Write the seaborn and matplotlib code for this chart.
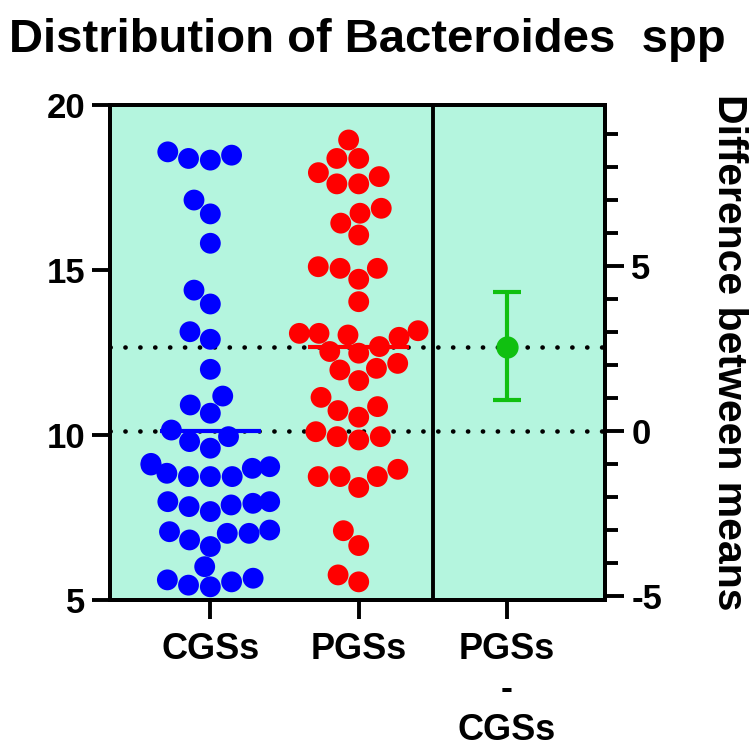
import numpy as np
import pandas as pd
import seaborn as sns
import matplotlib
matplotlib.use("Agg")
import matplotlib.pyplot as plt
from matplotlib.ticker import MultipleLocator

# values
cgs = [18.58, 18.33, 18.38, 18.48, 17.12, 16.70, 15.81, 14.39, 13.97, 13.13, 12.90,
       11.99, 11.18, 10.91, 10.66, 10.15, 9.95, 9.80, 9.60, 9.09, 9.04, 9.14,
       8.84, 8.74, 8.74, 8.99, 8.74, 7.93, 7.98, 7.83, 7.98, 7.88, 7.68,
       7.02, 6.82, 6.62, 7.07, 7.12, 7.02, 6.01, 5.45, 5.55, 5.66, 5.40, 5.61]
pgs = [18.94, 18.38, 18.38, 17.95, 17.61, 17.83, 17.61, 16.87, 16.72, 16.42, 16.06,
       15.05, 15.10, 15.05, 14.72, 14.04, 13.08, 13.08, 13.03, 13.16, 12.96,
       12.68, 12.48, 12.53, 12.17, 11.97, 12.02, 11.65, 10.86, 11.14, 10.74, 10.54,
       9.95, 9.95, 10.10, 9.85, 8.74, 8.74, 8.41, 8.96, 8.74, 7.10, 6.65, 5.76, 5.55]
groups = ["CGSs", "PGSs"]
diff_label = "PGSs\n-\nCGSs"
ci_low, ci_high = 0.92, 4.19

left_ticks = [5, 10, 15, 20]
right_ticks = [-5, 0, 5]

colors = {"CGSs": "#0000FF", "PGSs": "#FF0000"}
green = "#10C010"
mint = "#B4F5DE"

df = pd.DataFrame({"group": ["CGSs"] * len(cgs) + ["PGSs"] * len(pgs),
                   "value": cgs + pgs})

sns.set_style("ticks")
plt.rcParams["font.family"] = ["Liberation Sans", "DejaVu Sans"]
plt.rcParams["font.weight"] = "bold"
plt.rcParams["axes.unicode_minus"] = False
plt.rcParams["text.color"] = "black"
plt.rcParams["xtick.color"] = "black"
plt.rcParams["ytick.color"] = "black"
plt.rcParams["axes.edgecolor"] = "black"

lw = 2.8

fig = plt.figure(figsize=(7.5, 7.5), dpi=100)
ax = fig.add_axes([0.1467, 0.2, 0.66, 0.66])
ax.set_facecolor(mint)

sns.swarmplot(data=df, x="group", y="value", hue="group", palette=colors,
              order=groups, size=15, legend=False, ax=ax, zorder=3)

means = [np.mean(cgs), np.mean(pgs)]
diff = means[1] - means[0]

# mean bars and dotted reference lines
for i, g in enumerate(groups):
    ax.hlines(means[i], i - 0.34, i + 0.34, color=colors[g], lw=3, zorder=4)
    ax.axhline(means[i], color="black", lw=3.3, ls=(0, (0.05, 3.2)),
               dash_capstyle="round", zorder=2)
ax.axvline(1.5, color="black", lw=lw, zorder=5)

ax.set_xlim(-0.676, 2.66)
ax.set_ylim(5, 20)
ax.set_yticks(left_ticks)
ax.set_xticks([0, 1, 2])
ax.set_xticklabels(groups + [diff_label], linespacing=1.2)
ax.set_xlabel("")
ax.set_ylabel("")
for s in ax.spines.values():
    s.set_visible(True)
    s.set_linewidth(lw)
ax.tick_params(axis="y", width=lw, length=13, labelsize=25, pad=5)
ax.tick_params(axis="x", width=lw, length=14, labelsize=26, pad=9)

# difference between means on the right axis
ax2 = ax.twinx()
ax2.set_ylim(5 - means[0], 20 - means[0])
ax2.errorbar([2], [diff], yerr=[[diff - ci_low], [ci_high - diff]], fmt="o",
             color=green, ms=15, elinewidth=3, capsize=10, capthick=3, zorder=5)
ax2.set_xlim(-0.676, 2.66)
ax2.set_yticks(right_ticks)
ax2.yaxis.set_minor_locator(MultipleLocator(1))
ax2.tick_params(axis="y", which="major", width=lw, length=14, labelsize=25, pad=5)
ax2.tick_params(axis="y", which="minor", width=lw, length=9)
for s in ax2.spines.values():
    s.set_linewidth(lw)

fig.text(0.012, 0.931, "Distribution of Bacteroides  spp", fontsize=34,
         fontweight="bold", ha="left", va="baseline")
fig.text(0.972, 0.53, "Difference between means", fontsize=29.5,
         fontweight="bold", rotation=270, ha="center", va="center")

fig.savefig("out.png", dpi=100)
